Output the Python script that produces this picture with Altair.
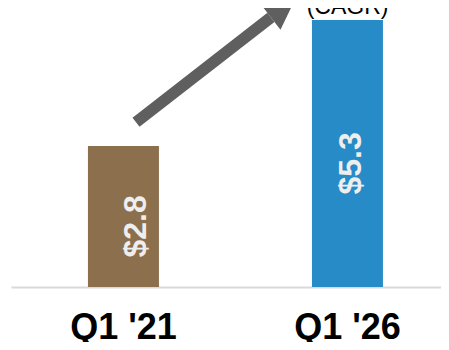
import altair as alt
import pandas as pd

# ---- data ----
categories = ["Q1 '21", "Q1 '26"]
values = [2.8, 5.3]
labels = ["$2.8", "$5.3"]

# annotation arrow (x in bar-index units, y in value units)
arrow_x = [0.056, 0.658]
arrow_y = [3.27, 5.35]
head_x = [0.713]
head_y = [5.536]
cagr_text = ["(CAGR)"]
cagr_x = [1.0]
cagr_y = [5.417]

bar_colors = ["#8c704e", "#268bc6"]

Y_DOMAIN = [0, 5.536]
IDX_DOMAIN = [-0.502, 1.417]

bars_df = pd.DataFrame({"cat": categories, "value": values, "label": labels})
arrow_df = pd.DataFrame({"ax": arrow_x, "ay": arrow_y, "o": [0, 1]})
head_df = pd.DataFrame({"ax": head_x, "ay": head_y})
cagr_df = pd.DataFrame({"ax": cagr_x, "ay": cagr_y, "t": cagr_text})

yscale = alt.Scale(domain=Y_DOMAIN, nice=False, zero=False)
xband = alt.Scale(paddingInner=0.683, paddingOuter=0.3013, align=0.57)
xidx = alt.Scale(domain=IDX_DOMAIN, nice=False, zero=False)

bars = alt.Chart(bars_df).mark_bar().encode(
    x=alt.X("cat:N", scale=xband, sort=categories,
            axis=alt.Axis(title=None, labelAngle=0, ticks=False, grid=False,
                          domain=True, domainColor="#d9d9d9", domainWidth=2,
                          labelFont="Liberation Sans", labelFontWeight="bold",
                          labelFontSize=36, labelColor="#000000",
                          labelPadding=23)),
    y=alt.Y("value:Q", scale=yscale, axis=None),
    color=alt.Color("cat:N", scale=alt.Scale(domain=categories, range=bar_colors),
                    legend=None),
)

texts = alt.Chart(bars_df).transform_calculate(
    mid="datum.value / 2"
).mark_text(
    angle=270, align="center", baseline="middle", dx=-10, dy=2,
    font="Liberation Sans", fontWeight="bold", fontSize=32, color="#eeeeee",
).encode(
    x=alt.X("cat:N", scale=xband, sort=categories, axis=None),
    y=alt.Y("mid:Q", scale=yscale, axis=None),
    text="label:N",
)

arrow = alt.Chart(arrow_df).mark_line(
    color="#5f5f5f", strokeWidth=11.5, strokeCap="butt", clip=False
).encode(
    x=alt.X("ax:Q", scale=xidx, axis=None),
    y=alt.Y("ay:Q", scale=yscale, axis=None),
    order="o:Q",
)

head = alt.Chart(head_df).mark_point(
    shape="M0,-1L1,1L-1,1Z", filled=True, opacity=1, color="#5f5f5f",
    size=961, angle=52.3, strokeWidth=0,
).encode(
    x=alt.X("ax:Q", scale=xidx, axis=None),
    y=alt.Y("ay:Q", scale=yscale, axis=None),
)

cagr = alt.Chart(cagr_df).mark_text(
    align="center", baseline="alphabetic", font="Liberation Sans",
    fontSize=23, color="#000000",
).encode(
    x=alt.X("ax:Q", scale=xidx, axis=None),
    y=alt.Y("ay:Q", scale=yscale, axis=None),
    text="t:N",
)

chart = alt.layer(bars, texts, arrow, head, cagr).resolve_scale(
    x="independent", y="independent", color="independent"
).properties(
    width=430, height=279,
    autosize=alt.AutoSizeParams(type="none"),
    padding={"left": 3, "top": 0, "right": 0, "bottom": 55},
).configure_view(stroke=None)

chart.save("out.html", embed_options={"renderer": "svg", "actions": False})
